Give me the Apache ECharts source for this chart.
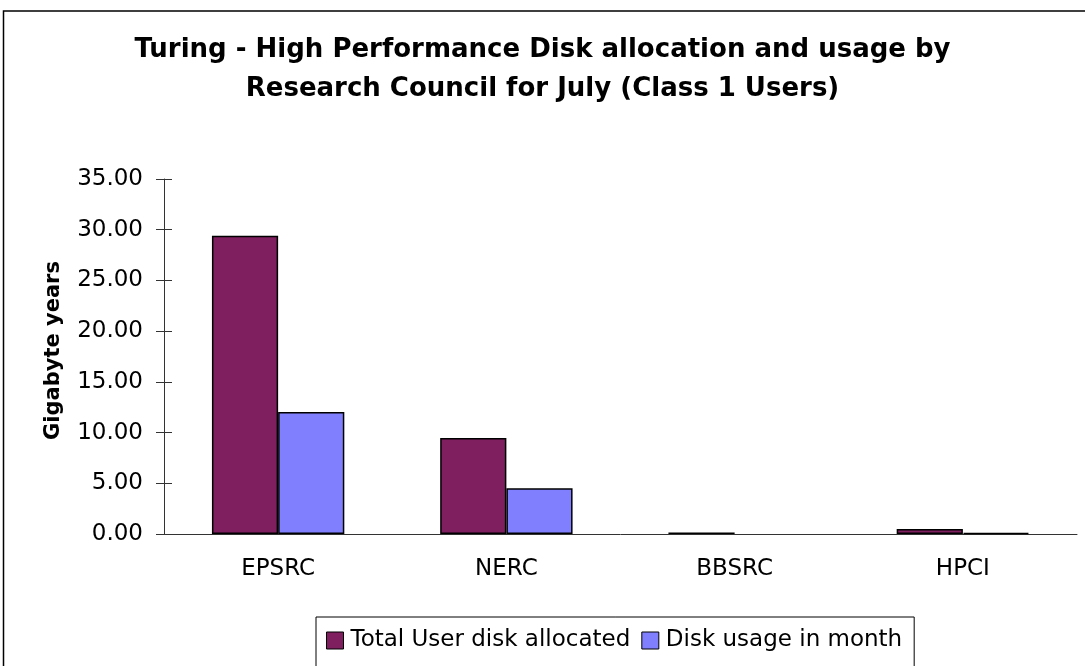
<!DOCTYPE html>
<html><head><meta charset="utf-8">
<script src="https://cdn.jsdelivr.net/npm/echarts@6/dist/echarts.min.js"></script>
<style>html,body{margin:0;padding:0;background:#fff}#c{width:1085px;height:666px}</style>
</head><body><div id="c"></div>
<script>
const categories = ['EPSRC', 'NERC', 'BBSRC', 'HPCI'];
const allocated = [29.4, 9.47, 0.15, 0.5];
const usage = [12.03, 4.52, null, 0.12];
const seriesNames = ['Total User disk allocated', 'Disk usage in month'];
const titleText = 'Turing - High Performance Disk allocation and usage by\nResearch Council for July (Class 1 Users)';
const yName = 'Gigabyte years';

const chart = echarts.init(document.getElementById('c'));
const font = 'DejaVu Sans, sans-serif';
const grid = {left: 164, right: 8, top: 179, bottom: 132};
chart.setOption({
  animation: false,
  backgroundColor: '#fff',
  graphic: [{type: 'rect', x: 3.5, y: 11, shape: {x: 0, y: 0, width: 1100, height: 700}, style: {fill: 'none', stroke: '#000', lineWidth: 1.5}, z: -1}],
  title: {text: titleText, left: 'center', top: 26, textStyle: {fontFamily: font, fontSize: 26, fontWeight: 'bold', color: '#000', lineHeight: 39}},
  legend: {
    left: 316, top: 617, itemWidth: 17, itemHeight: 17, itemGap: 11,
    padding: [12, 12, 20, 10], borderColor: '#000', borderWidth: 1,
    icon: 'rect',
    textStyle: {fontFamily: font, fontSize: 23, color: '#000', padding: [0, 0, 0, 2]},
    data: seriesNames.map(n => ({name: n, itemStyle: {borderColor: '#000', borderWidth: 1}}))
  },
  grid: [grid, grid],
  xAxis: [
    {type: 'category', data: categories, gridIndex: 0,
     axisLine: {lineStyle: {color: '#333', width: 1}},
     axisTick: {length: 8, lineStyle: {color: '#333'}},
     axisLabel: {fontFamily: font, fontSize: 23, color: '#000', margin: 24}},
    {type: 'category', data: categories, gridIndex: 1, position: 'bottom',
     axisLine: {show: false}, axisTick: {inside: true, length: 8, lineStyle: {color: '#333'}}, axisLabel: {show: false}}
  ],
  yAxis: [
    {type: 'value', min: 0, max: 35, interval: 5, gridIndex: 0,
     name: yName, nameLocation: 'middle', nameGap: 100,
     nameTextStyle: {fontFamily: font, fontSize: 21, fontWeight: 'bold', color: '#000', padding: [0, 0, 0, 12]},
     axisLine: {show: true, lineStyle: {color: '#333'}},
     axisTick: {show: true, length: 8, lineStyle: {color: '#333'}},
     splitLine: {show: false},
     axisLabel: {fontFamily: font, fontSize: 23, color: '#000', margin: 21, formatter: v => v.toFixed(2)}},
    {type: 'value', min: 0, max: 35, interval: 5, gridIndex: 1,
     axisLine: {show: false}, axisTick: {show: true, inside: true, length: 8, lineStyle: {color: '#333'}},
     splitLine: {show: false}, axisLabel: {show: false}}
  ],
  series: [
    {name: seriesNames[0], type: 'bar', data: allocated, barGap: '0%', barCategoryGap: '42%',
     itemStyle: {color: '#7f1f5f', borderColor: '#000', borderWidth: 1.5}},
    {name: seriesNames[1], type: 'bar', data: usage, barGap: '0%', barCategoryGap: '42%',
     itemStyle: {color: '#8080ff', borderColor: '#000', borderWidth: 1.5}}
  ]
});
</script></body></html>
